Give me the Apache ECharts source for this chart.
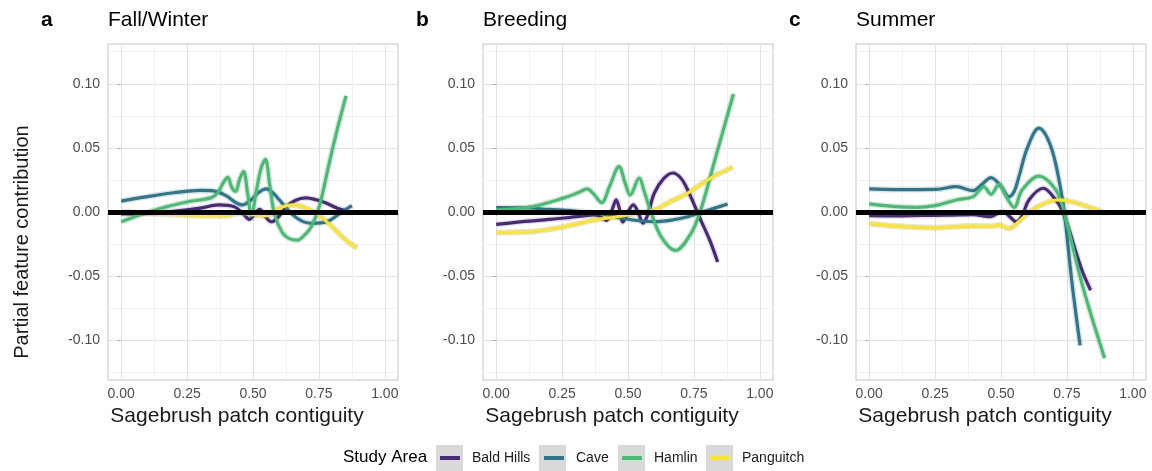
<!DOCTYPE html>
<html><head><meta charset="utf-8">
<script src="https://cdn.jsdelivr.net/npm/echarts@6/dist/echarts.min.js"></script>
<style>html,body{margin:0;padding:0;background:#fff}#c{width:1152px;height:471px}</style>
</head><body><div id="c"></div>
<script>
// ---- categories / labels ----
const seriesNames = ['Bald Hills', 'Cave', 'Hamlin', 'Panguitch'];
const seriesColors = ['#482878', '#2A788E', '#43BF71', '#FDE725'];
const panelLetters = ['a', 'b', 'c'];
const panelTitles = ['Fall/Winter', 'Breeding', 'Summer'];
const xTicks = [0, 0.25, 0.5, 0.75, 1];
const xMinorTicks = [0.125, 0.375, 0.625, 0.875];
const yTicks = [-0.10, -0.05, 0, 0.05, 0.10];
const yMinorTicks = [-0.125, -0.075, -0.025, 0.025, 0.075, 0.125];

// ---- Fall/Winter ----
const fallBaldHills = [[0,-0.0015],[0.1,-0.001],[0.2,0.0005],[0.25,0.0016],[0.3,0.003],[0.37,0.0055],[0.43,0.004],[0.465,-0.002],[0.487,-0.0058],[0.505,-0.002],[0.525,0.002],[0.545,-0.003],[0.57,-0.0076],[0.6,-0.003],[0.626,0.004],[0.66,0.009],[0.7,0.011],[0.74,0.0095],[0.777,0.007],[0.82,0.003],[0.857,0.001]];
const fallCave = [[0,0.0085],[0.1,0.012],[0.2,0.015],[0.3,0.0168],[0.35,0.0165],[0.4,0.0125],[0.43,0.008],[0.46,0.0055],[0.49,0.009],[0.52,0.015],[0.55,0.018],[0.575,0.015],[0.6,0.0094],[0.65,-0.002],[0.69,-0.0075],[0.725,-0.0088],[0.78,-0.0076],[0.83,-0.001],[0.875,0.005]];
const fallHamlin = [[0,-0.0076],[0.128,0.0016],[0.253,0.008],[0.34,0.011],[0.366,0.015],[0.385,0.022],[0.404,0.027],[0.42,0.019],[0.434,0.016],[0.45,0.026],[0.464,0.0315],[0.48,0.014],[0.494,-0.003],[0.513,0.017],[0.532,0.035],[0.547,0.041],[0.563,0.022],[0.581,-0.001],[0.611,-0.016],[0.64,-0.021],[0.668,-0.022],[0.7,-0.017],[0.721,-0.0115],[0.751,0.004],[0.789,0.038],[0.819,0.064],[0.853,0.0906]];
const fallPanguitch = [[0,0.0003],[0.1,-0.001],[0.2,-0.002],[0.3,-0.003],[0.4,-0.003],[0.45,-0.001],[0.5,-0.002],[0.55,-0.003],[0.6,0.003],[0.65,0.0055],[0.69,0.004],[0.74,-0.001],[0.8,-0.0115],[0.853,-0.022],[0.894,-0.028]];

// ---- Breeding ----
const breedBaldHills = [[0,-0.0097],[0.1,-0.0075],[0.2,-0.0058],[0.258,-0.0047],[0.33,-0.003],[0.37,-0.0023],[0.39,-0.003],[0.418,-0.0065],[0.44,0.002],[0.455,0.0095],[0.468,0.002],[0.48,-0.0078],[0.5,0.0],[0.52,0.0055],[0.538,0.0],[0.557,-0.0086],[0.575,-0.002],[0.6,0.0148],[0.635,0.026],[0.67,0.0304],[0.7,0.0265],[0.727,0.017],[0.776,-0.0063],[0.81,-0.022],[0.84,-0.039]];
const breedCave = [[0,0.0034],[0.1,0.0033],[0.2,0.002],[0.3,0.0008],[0.4,-0.0015],[0.473,-0.0047],[0.55,-0.007],[0.6,-0.0076],[0.66,-0.0065],[0.727,-0.0037],[0.788,0.0003],[0.878,0.0063]];
const breedHamlin = [[0,0.0016],[0.133,0.004],[0.258,0.011],[0.31,0.015],[0.345,0.018],[0.37,0.014],[0.4,0.0073],[0.43,0.02],[0.466,0.0354],[0.49,0.022],[0.508,0.0133],[0.543,0.0265],[0.56,0.017],[0.587,0.0],[0.625,-0.019],[0.68,-0.03],[0.739,-0.0166],[0.776,0.0016],[0.826,0.038],[0.9,0.092]];
const breedPanguitch = [[0,-0.016],[0.133,-0.0154],[0.258,-0.0115],[0.37,-0.0063],[0.46,-0.0037],[0.53,-0.001],[0.6,0.0016],[0.66,0.008],[0.727,0.0148],[0.814,0.0265],[0.898,0.035]];

// ---- Summer ----
const summerBaldHills = [[0,-0.0029],[0.1,-0.003],[0.2,-0.0027],[0.3,-0.0025],[0.394,-0.002],[0.455,-0.0037],[0.508,0.0003],[0.535,-0.004],[0.557,-0.0076],[0.58,-0.003],[0.606,0.0094],[0.66,0.0185],[0.708,0.0094],[0.735,0.0],[0.76,-0.015],[0.787,-0.033],[0.81,-0.047],[0.84,-0.061]];
const summerCave = [[0,0.018],[0.1,0.0175],[0.254,0.0177],[0.33,0.0198],[0.394,0.0167],[0.43,0.022],[0.462,0.0268],[0.5,0.02],[0.53,0.012],[0.55,0.016],[0.568,0.0276],[0.6,0.05],[0.644,0.0654],[0.67,0.06],[0.697,0.046],[0.72,0.025],[0.74,0.0],[0.768,-0.053],[0.8,-0.104]];
const summerHamlin = [[0,0.0063],[0.1,0.0042],[0.178,0.0036],[0.25,0.005],[0.33,0.0094],[0.394,0.012],[0.435,0.0196],[0.462,0.0138],[0.493,0.0216],[0.52,0.012],[0.55,0.0036],[0.58,0.0172],[0.644,0.028],[0.708,0.0172],[0.739,0.0],[0.81,-0.058],[0.893,-0.114]];
const summerPanguitch = [[0,-0.0089],[0.1,-0.011],[0.254,-0.0122],[0.394,-0.011],[0.46,-0.0112],[0.493,-0.0102],[0.53,-0.0128],[0.58,-0.005],[0.644,0.0047],[0.72,0.0094],[0.81,0.0055],[0.898,-0.001]];

const panelData = [
  [fallBaldHills, fallCave, fallHamlin, fallPanguitch],
  [breedBaldHills, breedCave, breedHamlin, breedPanguitch],
  [summerBaldHills, summerCave, summerHamlin, summerPanguitch]
];

// ---- layout ----
const gridLefts = [108, 483, 856];
const gridTop = 44, gridW = 290, gridH = 336;
const legendLineLefts = [440, 544, 622, 710];
const legendBoxLefts = [436, 539, 618, 706];

const chart = echarts.init(document.getElementById('c'));
const fmt = v => v.toFixed(2);
const grids = [], xAxes = [], yAxes = [], series = [], titles = [];

panelTitles.forEach((t, i) => {
  grids.push({left: gridLefts[i], top: gridTop, width: gridW, height: gridH, show: true,
    borderColor: '#c4c4c4', borderWidth: 1, backgroundColor: '#fff'});
  xAxes.push({type: 'value', gridIndex: i, min: -0.05, max: 1.05,
    axisLine: {show: false},
    axisTick: {show: true, customValues: xTicks, length: 4, lineStyle: {color: '#b3b3b3'}},
    axisLabel: {customValues: xTicks, formatter: fmt, color: '#4d4d4d', fontSize: 14, margin: 7, fontFamily: 'Liberation Sans'},
    splitLine: {show: true, lineStyle: {color: '#e2e2e2', width: 1}},
    name: 'Sagebrush patch contiguity', nameLocation: 'middle', nameGap: 23,
    nameTextStyle: {fontSize: 21, color: '#1a1a1a', fontFamily: 'Liberation Sans', padding: [0, 32, 0, 0]}});
  xAxes.push({type: 'value', gridIndex: i, min: -0.05, max: 1.05, position: 'top',
    axisLine: {show: false}, axisTick: {show: false, customValues: xMinorTicks},
    axisLabel: {show: false, customValues: xMinorTicks},
    splitLine: {show: true, lineStyle: {color: '#f1f1f1', width: 1}}});
  yAxes.push({type: 'value', gridIndex: i, min: -0.131, max: 0.131,
    axisLine: {show: false},
    axisTick: {show: true, customValues: yTicks, length: 4, lineStyle: {color: '#b3b3b3'}},
    axisLabel: {customValues: yTicks, formatter: fmt, color: '#4d4d4d', fontSize: 14, margin: 8, fontFamily: 'Liberation Sans'},
    splitLine: {show: true, lineStyle: {color: '#e2e2e2', width: 1}}});
  yAxes.push({type: 'value', gridIndex: i, min: -0.131, max: 0.131, position: 'right',
    axisLine: {show: false}, axisTick: {show: false, customValues: yMinorTicks},
    axisLabel: {show: false, customValues: yMinorTicks},
    splitLine: {show: true, lineStyle: {color: '#f1f1f1', width: 1}}});

  titles.push({text: panelLetters[i], left: gridLefts[i] - 72, top: 5,
    textStyle: {fontSize: 21, fontWeight: 'bold', color: '#000', fontFamily: 'Liberation Sans'}});
  titles.push({text: t, left: gridLefts[i] - 5, top: 5,
    textStyle: {fontSize: 21, fontWeight: 'normal', color: '#000', fontFamily: 'Liberation Sans'}});

  panelData[i].forEach((d, k) => {
    series.push({name: '_band', type: 'line', xAxisIndex: 2 * i, yAxisIndex: 2 * i, data: d,
      smooth: 0.35, showSymbol: false, silent: true, z: 1,
      lineStyle: {color: 'rgba(150,150,150,0.28)', width: 6}});
  });
  panelData[i].forEach((d, k) => {
    series.push({name: seriesNames[k], type: 'line', xAxisIndex: 2 * i, yAxisIndex: 2 * i, data: d,
      smooth: 0.35, showSymbol: false, symbol: 'none', z: 3, color: seriesColors[k],
      itemStyle: {color: seriesColors[k]},
      lineStyle: {color: seriesColors[k], width: 3.2}});
  });
  series.push({name: '_zero', type: 'line', xAxisIndex: 2 * i, yAxisIndex: 2 * i, data: [], z: 6,
    markLine: {silent: true, symbol: 'none', label: {show: false},
      lineStyle: {color: '#000', width: 5, type: 'solid'}, data: [{yAxis: 0}]}});
});

titles.push({text: 'Study Area', left: 338, top: 444,
  textStyle: {fontSize: 17, fontWeight: 'normal', color: '#000', fontFamily: 'Liberation Sans'}});

const legends = seriesNames.map((n, k) => ({
  data: [n], left: legendLineLefts[k], top: 451, icon: 'rect', itemWidth: 20, itemHeight: 4,
  padding: 0, selectedMode: false,
  textStyle: {fontSize: 14, color: '#1a1a1a', fontFamily: 'Liberation Sans', padding: [0, 0, 0, 7]}
}));

const graphics = legendBoxLefts.map(x => ({type: 'rect', left: x, top: 445, z: 0,
  shape: {width: 27, height: 27}, style: {fill: '#d9d9d9'}}));
graphics.push({type: 'text', x: 22, y: 242, rotation: Math.PI / 2, z: 5,
  style: {text: 'Partial feature contribution', align: 'center', verticalAlign: 'middle',
    fontSize: 20, fill: '#1a1a1a', fontFamily: 'Liberation Sans'}});

chart.setOption({
  animation: false,
  backgroundColor: '#fff',
  title: titles,
  grid: grids,
  xAxis: xAxes,
  yAxis: yAxes,
  legend: legends,
  graphic: graphics,
  series: series
});
</script></body></html>
